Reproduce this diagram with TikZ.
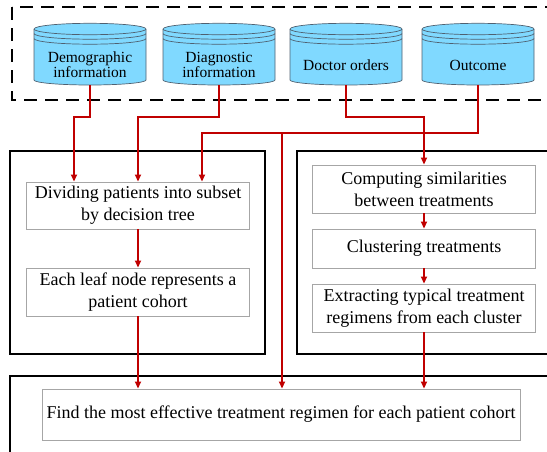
\documentclass[tikz,border=0pt]{standalone}
\usepackage{fontspec}
\setmainfont{Liberation Serif}
\newfontfamily\tnr{Liberation Serif}
\usetikzlibrary{arrows.meta,calc}
\definecolor{cylfill}{HTML}{80D9FF}
\definecolor{cyledge}{HTML}{4F6070}
\definecolor{redline}{HTML}{C00000}
\definecolor{boxedge}{HTML}{A6A6A6}
\tikzset{
  outerbox/.style={draw=black, line width=2pt},
  dashbox/.style={draw=black, line width=2.6pt, dash pattern=on 13pt off 8pt},
  stepbox/.style={draw=boxedge, line width=0.9pt, fill=white, align=center,
    font=\tnr\fontsize{18}{22}\selectfont, inner sep=0pt},
  conn/.style={draw=redline, line width=1.8pt},
  arr/.style={conn, -{Triangle[length=7pt,width=6pt]}},
  cyltext/.style={align=center, font=\tnr\fontsize{15.5}{15}\selectfont, inner sep=0pt},
  cylline/.style={draw=cyledge, line width=0.7pt},
  pics/cyl/.style={code={
    \path[fill=cylfill, cylline] (-56,29) -- (-56,80)
      arc[start angle=180, end angle=360, x radius=56pt, y radius=5pt]
      -- (56,29)
      arc[start angle=0, end angle=180, x radius=56pt, y radius=5.7pt] -- cycle;
    \draw[cylline] (-56,29) arc[start angle=180, end angle=360, x radius=56pt, y radius=5.7pt];
    \draw[cylline] (-56,33.5) arc[start angle=180, end angle=360, x radius=56pt, y radius=5.7pt];
    \draw[cylline] (-56,38.5) arc[start angle=180, end angle=360, x radius=56pt, y radius=5.7pt];
    \node[cyltext] (-t) at (0,65) {#1};
    \coordinate (-b) at (0,85);
  }},
}
\begin{document}
\begin{tikzpicture}[x=1pt, y=-1pt]
\useasboundingbox (0,0) rectangle (547,451);
% group frames
\draw[dashbox] (12,7) rectangle (570,100);
\draw[outerbox] (10,151) rectangle (265,354);
\draw[outerbox] (297,151) rectangle (570,354);
\draw[outerbox] (10,376) rectangle (570,470);
% data sources
\pic (dem)  at (90,0)  {cyl={Demographic\\information}};
\pic (diag) at (219,0) {cyl={Diagnostic\\information}};
\pic (doc)  at (346,0) {cyl={Doctor orders}};
\pic (out)  at (478,0) {cyl={Outcome}};
% steps
\node[stepbox, minimum width=223pt, minimum height=47pt] (div)   at (138,205.5) {Dividing patients into subset\\by decision tree};
\node[stepbox, minimum width=223pt, minimum height=48pt] (leaf)  at (138,292)   {Each leaf node represents a\\patient cohort};
\node[stepbox, minimum width=223pt, minimum height=48pt] (comp)  at (424,189)   {Computing similarities\\between treatments};
\node[stepbox, minimum width=223pt, minimum height=39pt] (clust) at (424,248.5) {Clustering treatments};
\node[stepbox, minimum width=223pt, minimum height=48pt] (extr)  at (424,308)   {Extracting typical treatment\\regimens from each cluster};
\node[stepbox, minimum width=478pt, minimum height=51pt] (find)  at (281,414.5)   {Find the most effective treatment regimen for each patient cohort};
% bend points
\coordinate (dema) at (90,117);  \coordinate (demb) at (74,117);
\coordinate (diaga) at (219,117); \coordinate (diagb) at (138,117);
\coordinate (doca) at (346,117); \coordinate (docb) at (424,117);
\coordinate (outa) at (478,133); \coordinate (outb) at (202,133);
\coordinate (outj) at (282,133);
% connectors
\draw[arr] (dem-b) -- (dema) -- (demb) -- (demb |- div.north);
\draw[arr] (diag-b) -- (diaga) -- (diagb) -- (diagb |- div.north);
\draw[arr] (out-b) -- (outa) -- (outb) -- (outb |- div.north);
\draw[arr] (outj) -- (outj |- find.north);
\draw[arr] (doc-b) -- (doca) -- (docb) -- (comp.north);
\draw[arr] (div.south) -- (leaf.north);
\draw[arr] (leaf.south) -- (leaf.south |- find.north);
\draw[arr] (comp.south) -- (clust.north);
\draw[arr] (clust.south) -- (extr.north);
\draw[arr] (extr.south) -- (extr.south |- find.north);
\end{tikzpicture}
\end{document}
